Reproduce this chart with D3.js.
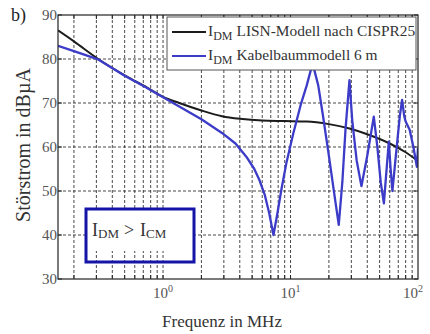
<!DOCTYPE html>
<html>
<head>
<meta charset="utf-8">
<script src="https://cdn.jsdelivr.net/npm/d3@7"></script>
<style>
  body { margin: 0; background: #fff; }
</style>
</head>
<body>
<svg id="chart" width="430" height="334"></svg>
<script>
// LISN model (black)
const lisnFreq = [0.15, 0.2, 0.31, 0.5, 0.75, 1, 1.34, 2, 2.9, 4, 6, 9, 13.4, 20, 29, 40, 60, 80, 100];
const lisnLevel = [86.5, 84, 80, 76.3, 73.5, 71.4, 70, 68.3, 67, 66.4, 66, 65.9, 65.8, 65.2, 64.2, 62.9, 60.8, 58.8, 56.8];

// harness model 6 m (blue)
const harnFreq = [0.15, 0.2, 0.31, 0.5, 0.75, 1, 1.34, 2, 2.9, 3.7, 4.5, 5.2, 5.7, 6.3, 6.8, 7.35, 7.9, 8.5, 9.3, 10.5, 12, 13.4, 14.9,
  16.5, 18, 20, 22, 23.9, 25.5, 27, 29, 30.5, 33, 36, 40, 45, 48, 51, 54, 56, 59, 61, 63, 67, 72, 75, 78, 80, 86, 92, 98, 100];
const harnLevel = [83, 81.8, 79.9, 76.2, 73.4, 71.3, 69.2, 66.3, 63.2, 60.8, 57.8, 55, 52.5, 49, 45, 40, 45, 50.5, 56.5, 63, 69.5, 74, 79,
  74, 67, 58, 49.5, 42.3, 52, 64, 75.2, 66, 57, 51.1, 58, 66.9, 60, 52, 47.2, 53, 61.2, 55, 50, 58, 67, 70.7, 67, 65.8, 63.9, 60, 55.5, 59.8];

const yTicks = [30, 40, 50, 60, 70, 80, 90];
const xMajor = [1, 10, 100];

const FONT = "Liberation Serif";

const svg = d3.select("#chart");
const L = 58, R = 418, T = 15, B = 279;

const x = d3.scaleLog().domain([0.15, 100]).range([L, R]);
const y = d3.scaleLinear().domain([30, 90]).range([B, T]);

svg.append("defs").append("clipPath").attr("id", "plot")
  .append("rect").attr("x", L).attr("y", T).attr("width", R - L).attr("height", B - T);

// grid: every 1..9 per decade
const xGrid = [];
for (let d = -1; d <= 2; d++) {
  for (let m = 1; m <= 9; m++) {
    const v = m * Math.pow(10, d);
    if (v > 0.15 && v < 100) xGrid.push(v);
  }
}

const grid = svg.append("g")
  .attr("stroke", "#333")
  .attr("stroke-width", 0.9)
  .attr("stroke-dasharray", "3,2");

grid.selectAll(".vx").data(xGrid).join("line")
  .attr("x1", (d) => x(d)).attr("x2", (d) => x(d))
  .attr("y1", T).attr("y2", B);

grid.selectAll(".hy").data(yTicks.slice(1, -1)).join("line")
  .attr("x1", L).attr("x2", R)
  .attr("y1", (d) => y(d)).attr("y2", (d) => y(d));

// inner ticks on every side
const ticks = svg.append("g").attr("stroke", "#222").attr("stroke-width", 1);
ticks.selectAll(".tb").data(xGrid).join("line")
  .attr("x1", (d) => x(d)).attr("x2", (d) => x(d)).attr("y1", B).attr("y2", B - 4);
ticks.selectAll(".tt").data(xGrid).join("line")
  .attr("x1", (d) => x(d)).attr("x2", (d) => x(d)).attr("y1", T).attr("y2", T + 4);
ticks.selectAll(".tl").data(yTicks).join("line")
  .attr("x1", L).attr("x2", L + 4).attr("y1", (d) => y(d)).attr("y2", (d) => y(d));
ticks.selectAll(".tr").data(yTicks).join("line")
  .attr("x1", R).attr("x2", R - 4).attr("y1", (d) => y(d)).attr("y2", (d) => y(d));

// curves
const line = d3.line()
  .x((d) => x(d[0]))
  .y((d) => y(d[1]));

const curves = svg.append("g").attr("clip-path", "url(#plot)").attr("fill", "none");

curves.append("path")
  .attr("d", line.curve(d3.curveMonotoneX)(lisnFreq.map((f, i) => [f, lisnLevel[i]])))
  .attr("stroke", "#1c1c1c")
  .attr("stroke-width", 2);

curves.append("path")
  .attr("d", line.curve(d3.curveLinear)(harnFreq.map((f, i) => [f, harnLevel[i]])))
  .attr("stroke", "#3c3cc8")
  .attr("stroke-width", 2.3)
  .attr("stroke-linejoin", "round");

// frame
svg.append("rect")
  .attr("x", L).attr("y", T).attr("width", R - L).attr("height", B - T)
  .attr("fill", "none").attr("stroke", "#222").attr("stroke-width", 1.2);

// y tick labels
svg.append("g").selectAll("text").data(yTicks).join("text")
  .attr("font-family", FONT)
  .attr("x", L - 1).attr("y", (d) => y(d) + 5)
  .attr("text-anchor", "end")
  .attr("font-size", 15)
  .attr("fill", "#555")
  .text((d) => d);

// x tick labels 10^n
const xl = svg.append("g").selectAll("text").data(xMajor).join("text")
  .attr("font-family", FONT)
  .attr("x", (d, i) => x(d) - (i === 2 ? 15 : 10))
  .attr("y", 298)
  .attr("font-size", 15)
  .attr("fill", "#555");
xl.append("tspan").text("10");
xl.append("tspan").attr("dy", -6).attr("font-size", 10).text((d) => Math.round(Math.log10(d)));

// axis titles
svg.append("text")
  .attr("font-family", FONT)
  .attr("x", 222).attr("y", 327)
  .attr("text-anchor", "middle")
  .attr("font-size", 17)
  .attr("fill", "#333")
  .text("Frequenz in MHz");

svg.append("text")
  .attr("font-family", FONT)
  .attr("transform", "translate(30,145) rotate(-90)")
  .attr("text-anchor", "middle")
  .attr("font-size", 20)
  .attr("fill", "#333")
  .text("Störstrom in dBµA");

svg.append("text")
  .attr("font-family", FONT)
  .attr("x", 11).attr("y", 21)
  .attr("font-size", 18)
  .attr("fill", "#222")
  .text("b)");

// legend
const lg = svg.append("g");
lg.append("rect")
  .attr("x", 167).attr("y", 17).attr("width", 249).attr("height", 53)
  .attr("fill", "#fff").attr("stroke", "#555").attr("stroke-width", 1);

const legendItems = [
  { label: "LISN-Modell nach CISPR25", color: "#1c1c1c", yy: 32 },
  { label: "Kabelbaummodell 6 m", color: "#3c3cc8", yy: 56 },
];
legendItems.forEach((it) => {
  lg.append("line")
    .attr("x1", 172).attr("x2", 206)
    .attr("y1", it.yy).attr("y2", it.yy)
    .attr("stroke", it.color).attr("stroke-width", 2);
  const t = lg.append("text")
    .attr("font-family", FONT)
    .attr("x", 208).attr("y", it.yy + 4)
    .attr("font-size", 15.4)
    .attr("fill", "#333");
  t.append("tspan").text("I");
  t.append("tspan").attr("dy", 4).attr("font-size", 12).text("DM");
  t.append("tspan").attr("dy", -4).attr("dx", 4).text(it.label);
});

// annotation box
const ab = svg.append("g");
ab.append("rect")
  .attr("x", 86).attr("y", 209).attr("width", 108).attr("height", 42)
  .attr("fill", "#fff");
ab.append("rect")
  .attr("x", 86).attr("y", 209).attr("width", 108).attr("height", 53)
  .attr("fill", "none").attr("stroke", "#1414a8").attr("stroke-width", 3);
const at = ab.append("text")
  .attr("font-family", FONT)
  .attr("x", 92).attr("y", 236)
  .attr("font-size", 18)
  .attr("fill", "#333");
at.append("tspan").text("I");
at.append("tspan").attr("dy", 2).attr("font-size", 13).text("DM");
at.append("tspan").attr("dy", -2).attr("dx", 5).text(">");
at.append("tspan").attr("dx", 6).text("I");
at.append("tspan").attr("dy", 2).attr("font-size", 13).text("CM");
</script>
</body>
</html>
